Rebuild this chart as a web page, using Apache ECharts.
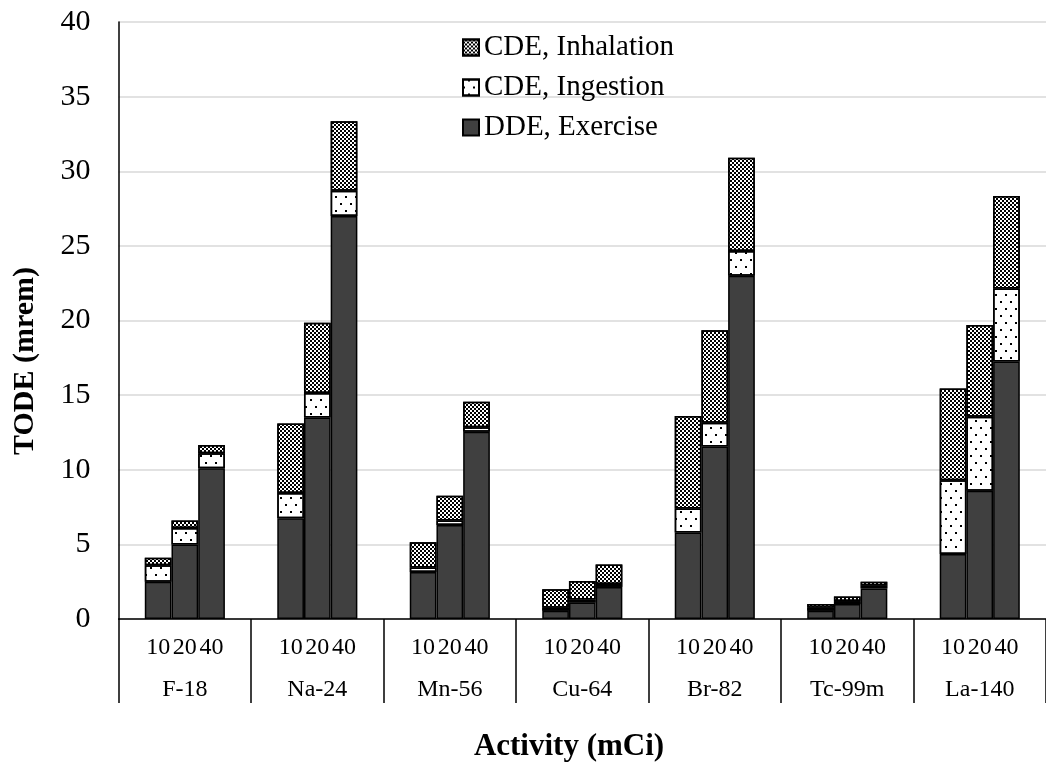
<!DOCTYPE html>
<html>
<head>
<meta charset="utf-8">
<script src="https://cdn.jsdelivr.net/npm/echarts@6/dist/echarts.min.js"></script>
<style>
html,body{margin:0;padding:0;background:#fff;}
#chart{width:1046px;height:771px;}
</style>
</head>
<body>
<div id="chart"></div>
<script>
const nuclides = ['F-18', 'Na-24', 'Mn-56', 'Cu-64', 'Br-82', 'Tc-99m', 'La-140'];
const activities = ['10', '20', '40'];
const legendNames = ['CDE, Inhalation', 'CDE, Ingestion', 'DDE, Exercise'];

const exercise10 = [2.5, 6.75, 3.15, 0.55, 5.8, 0.55, 4.35];
const exercise20 = [5.0, 13.5, 6.3, 1.1, 11.55, 1.0, 8.6];
const exercise40 = [10.1, 27.0, 12.55, 2.15, 23.0, 2.05, 17.25];
const ingestion10 = [1.1, 1.7, 0.3, 0.2, 1.6, 0.2, 4.95];
const ingestion20 = [1.1, 1.65, 0.3, 0.2, 1.6, 0.2, 4.95];
const ingestion40 = [1.0, 1.7, 0.3, 0.2, 1.65, 0.2, 4.9];
const inhalation10 = [0.5, 4.65, 1.7, 1.25, 6.2, 0.25, 6.15];
const inhalation20 = [0.5, 4.7, 1.65, 1.25, 6.2, 0.3, 6.15];
const inhalation40 = [0.55, 4.65, 1.7, 1.3, 6.25, 0.25, 6.2];

const yTicks = { min: 0, max: 40, interval: 5 };

const FONT = '"Liberation Serif", "Times New Roman", serif';
const exerciseStyle = { color: '#404040', borderColor: '#000', borderWidth: 1.5 };
const ingestionStyle = {
  color: '#ffffff', borderColor: '#000', borderWidth: 1.5,
  decal: { symbol: 'rect', symbolSize: 1, color: '#000', dashArrayX: [[2, 8], [0, 5, 2, 3]], dashArrayY: [2, 5] }
};
const inhalationStyle = {
  color: '#ffffff', borderColor: '#000', borderWidth: 1.5,
  decal: { symbol: 'rect', symbolSize: 1, color: '#000', dashArrayX: [[2, 2], [0, 2, 2, 0]], dashArrayY: [2, 0] }
};

const exerciseSets = [exercise10, exercise20, exercise40];
const ingestionSets = [ingestion10, ingestion20, ingestion40];
const inhalationSets = [inhalation10, inhalation20, inhalation40];

const series = [];
activities.forEach((a, i) => {
  series.push({ name: 'DDE, Exercise', type: 'bar', stack: 's' + a, data: exerciseSets[i], itemStyle: exerciseStyle, barWidth: 26.7, barGap: '0%' });
});
activities.forEach((a, i) => {
  series.push({ name: 'CDE, Ingestion', type: 'bar', stack: 's' + a, data: ingestionSets[i], itemStyle: ingestionStyle, barWidth: 26.7, barGap: '0%' });
});
activities.forEach((a, i) => {
  series.push({ name: 'CDE, Inhalation', type: 'bar', stack: 's' + a, data: inhalationSets[i], itemStyle: inhalationStyle, barWidth: 26.7, barGap: '0%' });
});

const chart = echarts.init(document.getElementById('chart'), null, { renderer: 'canvas' });
chart.setOption({
  animation: false,
  backgroundColor: '#fff',
  textStyle: { fontFamily: FONT },
  grid: { left: 118.6, right: -8.5, top: 22, bottom: 152, containLabel: false },
  legend: {
    data: legendNames.map(n => ({ name: n, textStyle: { fontFamily: FONT, fontSize: 29, color: '#000' } })),
    orient: 'vertical',
    left: 462, top: 33, padding: 0,
    itemWidth: 16, itemHeight: 16, itemGap: 11,
    icon: 'rect',
    textStyle: { fontFamily: FONT, fontSize: 29, color: '#000' },
    selectedMode: false
  },
  xAxis: {
    type: 'category',
    data: nuclides,
    axisLine: { lineStyle: { color: '#000', width: 1.5 } },
    axisTick: { show: true, length: 84, lineStyle: { color: '#000', width: 1.5 } },
    axisLabel: {
      interval: 0,
      margin: 8,
      fontSize: 24,
      fontFamily: FONT,
      color: '#000',
      formatter: function (v) {
        return activities.map(a => '{n|' + a + '}').join('') + '\n{g|' + v + '}';
      },
      rich: {
        n: { width: 26.7, align: 'center', fontSize: 24, fontFamily: FONT, color: '#000', lineHeight: 42 },
        g: { fontSize: 24, fontFamily: FONT, color: '#000', lineHeight: 42 }
      }
    }
  },
  yAxis: {
    type: 'value',
    min: yTicks.min, max: yTicks.max, interval: yTicks.interval,
    axisLine: { show: true, lineStyle: { color: '#000', width: 1.5 } },
    axisTick: { show: false },
    axisLabel: { fontSize: 30, fontFamily: FONT, color: '#000', margin: 28 },
    splitLine: { lineStyle: { color: '#d9d9d9', width: 1.5 } }
  },
  graphic: [
    { type: 'text', x: 25, y: 361, rotation: Math.PI / 2,
      style: { text: 'TODE (mrem)', fontFamily: FONT, fontSize: 30, fontWeight: 'bold', fill: '#000', align: 'center', verticalAlign: 'middle' } },
    { type: 'text', x: 569, y: 747,
      style: { text: 'Activity (mCi)', fontFamily: FONT, fontSize: 31, fontWeight: 'bold', fill: '#000', align: 'center', verticalAlign: 'middle' } }
  ],
  series: series
});
</script>
</body>
</html>
